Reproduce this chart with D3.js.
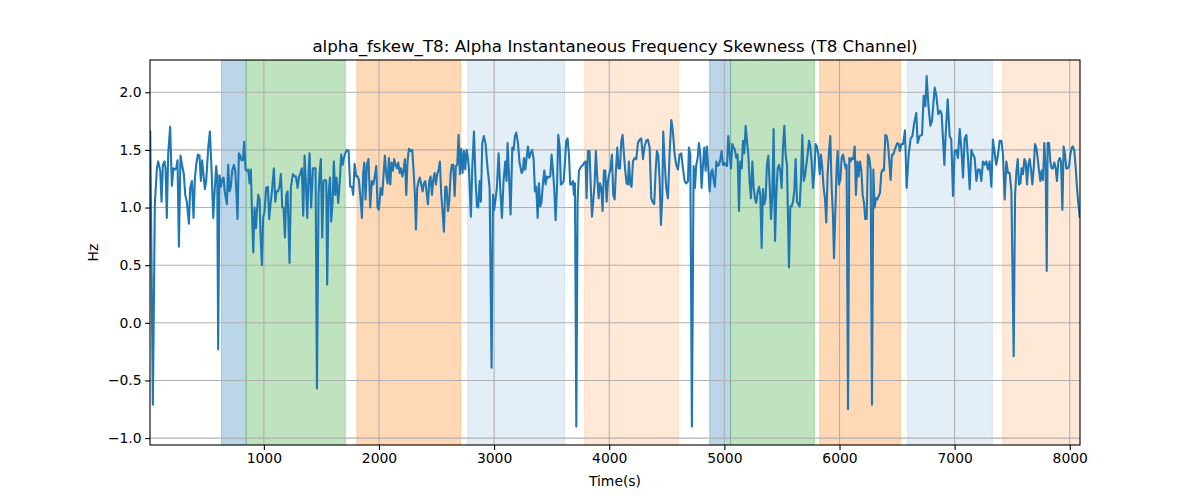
<!DOCTYPE html>
<html>
<head>
<meta charset="utf-8">
<script src="https://cdn.jsdelivr.net/npm/d3@7.9.0/dist/d3.min.js"></script>
<style>
  body { margin: 0; background: #fff; }
  svg { font-family: "DejaVu Sans", sans-serif; }
</style>
</head>
<body>
<svg id="chart" width="1200" height="500"></svg>
<script>
// shaded phases (start s, end s, kind)
const bandStart = [632, 846, 1808, 2770, 3786, 4872, 5054, 5828, 6592, 7417];
const bandEnd   = [846, 1707, 2709, 3613, 4603, 5054, 5782, 6529, 7328, 8120];
const bandKind  = ['blue', 'green', 'orange', 'lightblue', 'lightorange',
                   'blue', 'green', 'orange', 'lightblue', 'lightorange'];

const xTicks = [1000, 2000, 3000, 4000, 5000, 6000, 7000, 8000];
const yTicks = [-1.0, -0.5, 0.0, 0.5, 1.0, 1.5, 2.0];

// [time (s), skewness (Hz)]
const skew = [
  [13,1.66],[36,-0.71],[53,1.03],[71,1.34],[82,1.40],[100,1.32],[111,1.05],[123,1.37],[137,1.40],[146,1.34],
  [157,0.91],[169,1.46],[186,1.70],[201,1.19],[215,1.34],[227,1.33],[239,1.34],[250,1.41],[262,0.66],[276,1.45],
  [291,1.36],[305,1.29],[317,1.11],[331,1.05],[349,0.86],[360,1.17],[375,1.23],[389,0.91],[401,1.25],[412,1.37],
  [427,1.46],[441,1.45],[453,1.23],[464,1.41],[476,1.28],[488,1.16],[499,1.23],[517,1.52],[531,1.66],[546,1.32],
  [560,0.91],[574,1.17],[586,1.36],[595,1.26],[603,-0.23],[615,1.28],[627,1.18],[638,1.24],[650,1.26],[661,1.13],
  [679,1.03],[690,1.37],[702,1.14],[713,1.18],[725,1.32],[740,1.37],[751,1.32],[763,1.11],[771,0.90],[783,1.47],
  [795,1.45],[806,1.41],[818,1.41],[829,1.57],[841,1.33],[852,1.32],[864,1.33],[876,1.21],[887,1.33],[899,0.88],
  [908,0.61],[919,1.00],[931,0.82],[939,0.95],[951,1.11],[963,1.07],[971,0.77],[983,0.50],[994,0.91],[1006,0.97],
  [1020,1.17],[1035,1.18],[1046,0.90],[1058,1.03],[1072,1.16],[1087,1.34],[1099,1.05],[1110,1.14],[1122,1.14],[1136,1.18],
  [1148,1.29],[1160,1.00],[1171,1.00],[1183,0.74],[1194,1.11],[1206,1.14],[1223,0.52],[1235,1.18],[1252,1.29],[1267,1.27],
  [1278,1.27],[1293,1.17],[1304,1.26],[1319,1.30],[1330,1.34],[1342,0.93],[1354,1.45],[1365,1.21],[1377,0.91],[1391,1.37],
  [1397,1.47],[1411,1.00],[1426,1.34],[1437,1.34],[1449,1.34],[1461,-0.57],[1475,1.11],[1484,1.29],[1495,1.42],[1507,0.74],
  [1518,1.23],[1530,1.24],[1542,1.23],[1550,0.33],[1562,1.11],[1574,1.26],[1585,0.88],[1597,1.05],[1608,1.40],[1620,1.11],
  [1631,1.26],[1646,1.04],[1660,1.24],[1672,1.46],[1684,1.37],[1695,1.43],[1707,1.47],[1721,1.50],[1736,1.49],[1750,1.18],
  [1765,1.18],[1776,1.11],[1788,1.38],[1802,1.27],[1814,1.27],[1825,1.24],[1837,1.11],[1852,0.91],[1863,1.30],[1872,1.39],
  [1883,1.07],[1895,1.37],[1909,1.42],[1924,1.00],[1938,1.23],[1950,1.20],[1962,1.26],[1976,1.36],[1988,1.00],[1999,0.98],
  [2014,1.17],[2028,1.11],[2040,1.29],[2051,1.45],[2063,1.29],[2075,1.21],[2086,1.43],[2098,1.20],[2109,1.39],[2121,1.32],
  [2132,1.42],[2144,1.37],[2156,1.34],[2167,1.39],[2179,1.30],[2190,1.34],[2202,1.27],[2214,1.33],[2225,1.42],[2237,1.11],
  [2248,1.40],[2260,1.51],[2274,1.49],[2289,1.50],[2300,1.33],[2312,1.11],[2321,0.81],[2332,1.17],[2344,1.23],[2355,1.26],
  [2367,1.20],[2379,1.14],[2390,1.21],[2402,1.23],[2413,1.14],[2425,1.03],[2437,1.23],[2448,1.27],[2460,1.11],[2471,1.24],
  [2483,1.30],[2494,1.20],[2506,1.29],[2518,1.33],[2529,1.40],[2541,1.11],[2552,0.97],[2564,0.79],[2576,1.18],[2587,1.18],
  [2599,0.97],[2610,1.05],[2622,1.29],[2633,1.37],[2645,1.37],[2657,1.10],[2668,1.36],[2680,1.37],[2691,1.63],[2703,1.29],
  [2715,1.51],[2726,1.30],[2738,1.49],[2749,1.33],[2761,1.50],[2772,1.43],[2781,1.34],[2798,0.92],[2810,1.34],[2825,1.66],
  [2839,1.23],[2851,1.01],[2862,1.00],[2874,1.23],[2885,1.05],[2897,1.56],[2911,1.62],[2926,1.55],[2943,1.34],[2961,1.17],
  [2978,-0.39],[2990,1.11],[3001,0.98],[3013,1.08],[3024,1.17],[3039,1.47],[3053,1.17],[3068,0.91],[3082,1.23],[3097,1.40],
  [3108,1.23],[3117,1.56],[3129,1.29],[3143,0.94],[3158,1.52],[3169,1.50],[3181,1.62],[3192,1.65],[3207,1.56],[3221,1.39],
  [3239,1.30],[3250,1.32],[3259,1.43],[3271,1.33],[3282,1.43],[3294,1.53],[3305,1.43],[3317,1.47],[3331,1.50],[3343,1.42],
  [3355,1.14],[3366,1.18],[3378,0.91],[3389,1.21],[3401,1.01],[3412,1.05],[3424,1.21],[3436,1.32],[3447,1.20],[3459,1.27],
  [3470,1.26],[3488,1.27],[3499,1.46],[3511,1.32],[3522,1.17],[3534,0.89],[3546,1.17],[3557,1.63],[3569,1.53],[3580,1.20],
  [3592,1.21],[3604,1.23],[3615,1.39],[3627,1.58],[3638,1.60],[3650,1.46],[3661,1.20],[3673,1.20],[3685,1.23],[3693,1.11],
  [3702,1.21],[3714,-0.90],[3725,1.05],[3737,1.32],[3748,1.34],[3760,1.36],[3772,1.37],[3783,1.39],[3795,1.40],[3803,1.08],
  [3815,1.49],[3829,1.49],[3841,1.14],[3850,0.92],[3861,1.05],[3873,1.21],[3884,1.49],[3896,1.26],[3908,1.08],[3919,1.21],
  [3931,1.17],[3942,0.97],[3954,1.32],[3966,1.32],[3977,1.05],[3989,1.23],[4000,1.29],[4012,1.34],[4023,1.46],[4035,1.11],
  [4047,1.07],[4058,1.32],[4070,1.52],[4081,1.34],[4093,1.34],[4105,1.58],[4116,1.63],[4128,1.46],[4139,1.32],[4151,1.21],
  [4162,1.20],[4171,1.40],[4183,1.20],[4194,1.18],[4206,1.40],[4220,1.43],[4235,1.42],[4249,1.56],[4264,1.59],[4278,1.60],
  [4293,1.42],[4307,1.53],[4322,1.58],[4336,1.59],[4351,1.52],[4365,1.08],[4380,1.04],[4391,1.03],[4403,1.32],[4414,1.49],
  [4426,1.45],[4438,1.23],[4449,0.85],[4461,1.11],[4469,1.66],[4481,1.40],[4495,1.17],[4510,1.08],[4524,1.46],[4539,1.76],
  [4553,1.66],[4568,1.46],[4582,1.37],[4597,1.33],[4611,1.46],[4626,1.47],[4640,1.34],[4655,1.23],[4669,1.21],[4684,1.23],
  [4692,1.52],[4704,1.46],[4718,-0.90],[4733,1.36],[4744,1.17],[4756,1.37],[4768,1.43],[4779,1.56],[4791,1.46],[4802,1.17],
  [4814,1.37],[4826,1.52],[4837,1.32],[4849,1.53],[4860,1.34],[4872,1.14],[4884,1.30],[4895,1.33],[4907,1.24],[4918,1.18],
  [4930,1.40],[4941,1.36],[4953,1.37],[4965,1.42],[4976,1.49],[4988,1.37],[4999,1.39],[5011,1.37],[5023,1.36],[5034,1.62],
  [5046,1.46],[5057,1.34],[5069,1.55],[5080,1.52],[5092,1.50],[5104,1.43],[5115,1.46],[5127,0.97],[5138,1.40],[5150,1.34],
  [5162,1.58],[5173,1.47],[5185,1.71],[5196,1.58],[5208,1.46],[5219,1.23],[5231,1.08],[5243,1.40],[5254,1.18],[5266,1.08],
  [5277,1.04],[5289,1.13],[5301,1.18],[5312,1.11],[5324,0.65],[5335,1.16],[5347,1.03],[5358,1.08],[5370,1.37],[5382,1.45],
  [5393,1.21],[5405,0.90],[5416,1.10],[5428,1.68],[5440,0.71],[5451,1.11],[5463,1.34],[5474,1.37],[5486,1.32],[5497,1.17],
  [5509,1.52],[5521,1.71],[5532,1.46],[5544,1.37],[5561,0.48],[5573,1.01],[5584,1.01],[5596,1.05],[5607,1.14],[5619,1.42],
  [5631,1.05],[5642,1.03],[5654,1.01],[5665,1.23],[5677,1.63],[5689,1.23],[5700,1.27],[5712,1.37],[5723,1.46],[5735,1.58],
  [5746,1.53],[5758,1.40],[5770,1.17],[5781,1.29],[5793,1.55],[5804,1.53],[5816,1.46],[5828,1.29],[5839,1.46],[5851,1.34],
  [5862,1.17],[5874,1.08],[5885,0.87],[5897,1.29],[5909,1.49],[5920,1.62],[5932,1.17],[5943,0.94],[5952,0.56],[5964,0.97],
  [5975,1.34],[5984,1.49],[5995,1.20],[6007,1.24],[6019,1.43],[6030,1.46],[6042,1.40],[6053,1.34],[6062,1.37],[6074,-0.75],
  [6085,1.43],[6097,1.40],[6108,1.43],[6120,1.42],[6132,1.53],[6143,1.11],[6155,1.40],[6166,1.27],[6178,1.40],[6190,1.32],
  [6201,1.11],[6213,1.04],[6224,0.90],[6236,0.90],[6247,1.46],[6259,1.43],[6271,1.32],[6282,-0.71],[6294,1.33],[6305,1.00],
  [6317,1.08],[6329,1.07],[6340,1.10],[6352,1.13],[6363,1.30],[6375,1.33],[6386,1.32],[6398,1.63],[6410,1.62],[6421,1.55],
  [6433,1.40],[6444,1.24],[6456,1.46],[6468,1.46],[6479,1.50],[6491,1.53],[6502,1.56],[6514,1.55],[6525,1.49],[6537,1.55],
  [6552,1.55],[6569,1.67],[6583,1.17],[6601,1.46],[6618,1.60],[6633,1.62],[6647,1.72],[6667,1.82],[6679,1.56],[6696,1.62],
  [6717,1.63],[6731,1.97],[6746,1.88],[6757,2.14],[6772,1.89],[6789,1.71],[6803,1.75],[6827,2.04],[6841,1.97],[6858,1.81],
  [6876,1.84],[6887,1.81],[6896,1.65],[6911,1.37],[6922,1.63],[6940,1.94],[6957,1.62],[6971,1.59],[6986,1.10],[7000,1.49],
  [7015,1.50],[7029,1.43],[7044,1.68],[7058,1.52],[7073,1.26],[7087,1.60],[7102,1.63],[7116,1.43],[7131,1.16],[7145,1.50],
  [7160,1.46],[7174,1.43],[7189,1.23],[7203,1.33],[7218,1.33],[7232,1.23],[7246,1.40],[7261,1.37],[7275,1.40],[7290,1.33],
  [7304,1.40],[7319,1.18],[7333,1.59],[7348,1.47],[7362,1.37],[7377,1.46],[7391,1.58],[7406,1.58],[7420,1.46],[7435,1.07],
  [7449,1.40],[7464,1.30],[7478,1.30],[7493,1.14],[7513,-0.29],[7525,1.11],[7536,1.30],[7548,1.42],[7559,1.20],[7571,1.21],
  [7582,1.34],[7594,1.29],[7606,1.42],[7617,1.40],[7629,1.20],[7640,1.37],[7652,1.42],[7664,1.32],[7675,1.20],[7687,1.34],
  [7698,1.55],[7710,1.52],[7721,1.43],[7733,1.32],[7745,1.23],[7756,1.32],[7768,1.24],[7779,1.56],[7791,1.34],[7800,0.45],
  [7808,1.56],[7820,1.56],[7831,1.40],[7843,1.34],[7855,1.34],[7866,1.39],[7878,1.34],[7889,1.23],[7901,1.40],[7913,1.43],
  [7924,1.40],[7936,0.98],[7947,1.53],[7959,1.46],[7970,1.34],[7982,1.34],[7994,1.36],[8005,1.46],[8017,1.52],[8028,1.53],
  [8040,1.49],[8052,1.34],[8063,1.17],[8075,1.03],[8086,0.92]
];

const kindColor = {
  blue: ['#1f77b4', 0.3], green: ['#2ca02c', 0.3], orange: ['#ff7f0e', 0.3],
  lightblue: ['#1f77b4', 0.12], lightorange: ['#ff7f0e', 0.17]
};

const margin = {top: 60, right: 120, bottom: 55, left: 150};
const W = 1200, H = 500;
const iw = W - margin.left - margin.right;
const ih = H - margin.top - margin.bottom;

const svg = d3.select('#chart');
const g = svg.append('g').attr('transform', `translate(${margin.left},${margin.top})`);

const x = d3.scaleLinear().domain([11, 8089]).range([0, iw]);
const y = d3.scaleLinear().domain([-1.06, 2.28]).range([ih, 0]);

g.append('clipPath').attr('id', 'clip')
  .append('rect').attr('width', iw).attr('height', ih);

const plot = g.append('g').attr('clip-path', 'url(#clip)');

// phase bands
bandStart.forEach((s, i) => {
  const [c, a] = kindColor[bandKind[i]];
  plot.append('rect')
    .attr('x', x(s)).attr('y', 0)
    .attr('width', x(bandEnd[i]) - x(s)).attr('height', ih)
    .attr('fill', c).attr('fill-opacity', a)
    .attr('stroke', c).attr('stroke-opacity', a).attr('stroke-width', 1);
});

// grid
plot.selectAll('.gx').data(xTicks).join('line')
  .attr('x1', d => x(d)).attr('x2', d => x(d)).attr('y1', 0).attr('y2', ih)
  .attr('stroke', '#b0b0b0').attr('stroke-width', 1.1);
plot.selectAll('.gy').data(yTicks).join('line')
  .attr('y1', d => y(d)).attr('y2', d => y(d)).attr('x1', 0).attr('x2', iw)
  .attr('stroke', '#b0b0b0').attr('stroke-width', 1.1);

// signal
const line = d3.line().x(d => x(d[0])).y(d => y(d[1]));
plot.append('path').datum(skew)
  .attr('d', line)
  .attr('fill', 'none').attr('stroke', '#1f77b4')
  .attr('stroke-width', 2.1).attr('stroke-linejoin', 'round').attr('stroke-linecap', 'square');

// axes
const xAxis = g.append('g').attr('transform', `translate(0,${ih})`)
  .call(d3.axisBottom(x).tickValues(xTicks).tickFormat(d3.format('d')).tickSize(4.9).tickPadding(3.5));
const yAxis = g.append('g')
  .call(d3.axisLeft(y).tickValues(yTicks).tickFormat(d3.format('.1f')).tickSize(4.9).tickPadding(3.5));
[xAxis, yAxis].forEach(a => {
  a.select('.domain').remove();
  a.selectAll('line').attr('stroke', '#000').attr('stroke-width', 1.1);
  a.selectAll('text').attr('fill', '#000').style('font-size', '13.9px').style('font-family', '"DejaVu Sans", sans-serif');
});

// spines
g.append('rect').attr('width', iw).attr('height', ih)
  .attr('fill', 'none').attr('stroke', '#000').attr('stroke-width', 1.1);

// labels
svg.append('text').attr('x', margin.left + iw / 2).attr('y', 52)
  .attr('text-anchor', 'middle').style('font-size', '16.7px')
  .text('alpha_fskew_T8: Alpha Instantaneous Frequency Skewness (T8 Channel)');
svg.append('text').attr('x', margin.left + iw / 2).attr('y', 486)
  .attr('text-anchor', 'middle').style('font-size', '13.9px').text('Time(s)');
svg.append('text').attr('transform', `translate(98,${margin.top + ih / 2}) rotate(-90)`)
  .attr('text-anchor', 'middle').style('font-size', '13.9px').text('Hz');
</script>
</body>
</html>
